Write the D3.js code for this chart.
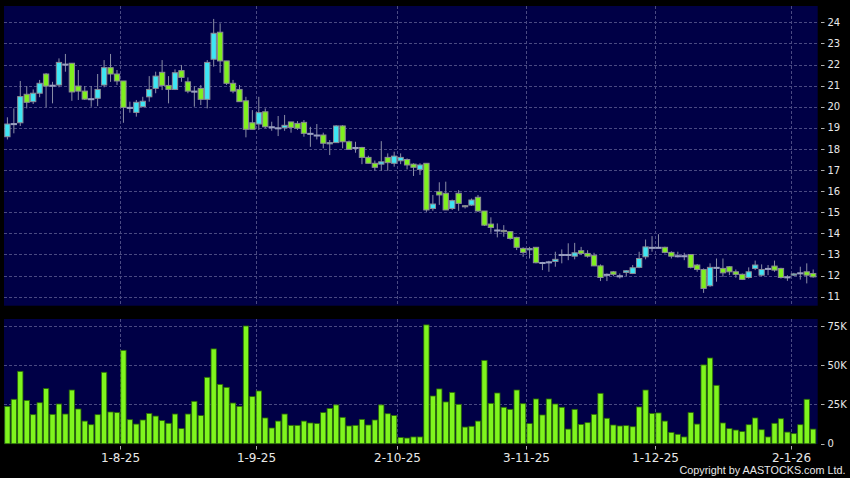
<!DOCTYPE html>
<html><head><meta charset="utf-8">
<script src="https://cdn.jsdelivr.net/npm/d3@7/dist/d3.min.js"></script>
<style>html,body{margin:0;padding:0;background:#000;overflow:hidden}svg{display:block}</style>
</head><body><svg id="c" width="850" height="478"></svg>
<script>
// ---- data ----
const openP = [18.58,19.2,19.24,20.59,20.24,20.64,21.55,21.02,21.03,22.02,
22.06,20.98,20.74,20.38,20.4,21.03,21.85,21.55,21.22,19.97,
19.73,20.0,20.47,20.87,21.63,21.01,20.82,21.71,21.18,20.74,
20.87,20.35,22.25,23.53,22.17,21.11,20.82,20.28,19.24,19.18,
19.76,19.05,19.0,19.0,19.28,19.21,19.26,18.74,18.66,18.66,
18.24,18.3,19.09,18.34,18.07,18.07,17.6,17.32,17.28,17.6,
17.32,17.44,17.5,17.28,17.03,17.32,15.18,15.97,15.9,15.18,
15.9,15.31,15.34,15.71,15.06,14.44,14.16,14.14,14.08,13.81,
13.29,13.22,13.34,12.62,12.65,12.67,13.0,13.0,12.92,13.18,
13.05,12.96,12.46,12.06,12.18,11.99,12.15,12.1,12.39,12.89,
13.34,13.34,13.34,13.1,12.94,12.94,13.0,12.5,12.29,11.52,
12.39,12.34,12.42,12.18,12.06,11.91,12.34,12.02,12.34,12.45,
12.34,11.94,12.02,12.13,12.18,12.1];
const highP = [19.5,19.92,21.22,20.98,20.82,21.27,21.6,21.18,22.29,22.5,
22.06,21.74,20.98,20.98,21.55,22.21,22.5,21.74,21.22,20.24,
20.32,20.47,21.45,21.66,22.21,21.45,21.77,21.98,21.39,20.98,
21.03,22.21,24.16,23.95,22.17,21.27,21.03,20.47,19.84,20.47,
19.92,19.29,19.56,19.61,19.28,19.32,19.37,19.05,19.18,18.77,
18.42,19.13,19.13,18.4,18.34,18.1,17.68,17.45,18.37,17.79,
17.87,17.79,17.55,17.32,17.32,17.32,15.82,16.42,16.45,15.6,
16.05,15.34,15.65,15.82,15.06,14.76,14.47,14.39,14.1,13.84,
13.34,13.36,13.34,12.65,12.7,13.13,13.24,13.53,13.55,13.36,
13.2,13.08,12.53,12.1,12.22,12.1,12.26,12.5,13.13,13.71,
13.87,13.96,13.37,13.15,13.13,13.08,13.0,12.55,12.34,12.58,
12.81,12.81,12.45,12.29,12.1,12.39,12.71,12.53,12.5,12.71,
12.37,12.02,12.13,12.42,12.58,12.29];
const lowP = [18.45,18.74,19.09,19.92,20.13,20.45,19.97,20.16,20.92,21.66,
20.28,20.32,20.32,20.0,20.03,20.92,21.18,21.03,19.24,19.72,
19.53,20.0,20.24,20.64,20.79,20.16,20.79,21.18,20.64,20.0,
20.08,19.92,21.9,21.61,21.03,20.64,20.24,18.55,18.93,18.9,
18.98,18.86,18.61,18.86,18.77,18.9,18.58,18.1,18.45,18.03,
17.71,18.3,18.03,17.98,17.82,17.28,17.32,16.97,16.97,16.97,
17.16,17.28,17.03,16.72,16.77,15.02,15.07,15.35,15.11,15.11,
15.07,15.18,15.3,15.02,14.35,14.03,13.81,13.84,13.7,13.21,
12.89,12.81,12.58,12.26,12.18,12.42,12.58,12.73,12.77,12.97,
12.85,12.45,11.74,11.74,11.97,11.86,11.97,12.07,12.35,12.77,
13.13,13.3,13.05,12.81,12.86,12.73,12.34,12.18,11.18,11.47,
11.71,11.94,12.02,11.9,11.79,11.86,12.26,11.97,12.02,12.18,
11.86,11.75,11.98,11.81,11.63,11.9];
const closeP = [19.18,19.2,20.48,20.21,20.64,21.11,20.98,21.02,22.1,22.02,
20.7,20.74,20.36,20.38,20.82,21.85,21.55,21.22,19.97,19.97,
20.21,20.26,20.82,21.45,21.01,20.82,21.61,21.39,20.74,20.74,
20.35,22.1,23.48,22.17,21.11,20.74,20.24,18.93,18.93,19.72,
19.05,19.05,19.0,19.12,19.02,18.98,18.74,18.74,18.66,18.27,
18.3,19.09,18.34,17.98,18.07,17.6,17.32,17.13,17.39,17.35,
17.66,17.6,17.24,17.13,17.24,15.11,15.39,15.82,15.11,15.55,
15.42,15.26,15.58,15.06,14.39,14.28,14.16,14.08,13.76,13.34,
13.1,13.28,12.61,12.62,12.65,12.77,13.0,13.0,13.08,13.05,
12.92,12.46,11.91,12.06,12.06,11.99,12.23,12.37,12.81,13.36,
13.34,13.34,13.1,12.92,12.94,12.94,12.39,12.29,11.39,12.39,
12.39,12.13,12.18,12.06,11.82,12.18,12.5,12.29,12.34,12.26,
11.91,11.94,12.08,12.13,12.02,11.94];
const volumeK = [23.8,28.3,46.1,27.6,18.5,26.1,35.1,18.7,25.3,18.9,
34.2,22.1,14.4,12.1,18.5,45.5,20.2,19.8,59.5,15.3,
12.5,15.1,19.3,17.6,14.7,13.0,18.9,9.6,18.9,27.0,
17.9,42.3,60.4,37.8,35.9,25.9,23.8,75.0,30.0,33.6,
16.4,10.0,14.4,18.9,11.7,11.7,14.4,13.2,12.8,19.8,
22.5,24.7,16.8,11.3,11.7,15.5,11.9,15.1,24.7,19.1,
17.9,4.0,3.6,4.3,4.3,75.7,30.4,34.9,26.6,32.7,
25.1,10.6,11.1,14.4,53.1,25.7,32.3,23.2,21.9,34.2,
25.5,12.8,28.5,18.3,28.5,25.3,23.2,9.3,21.9,12.3,
13.4,18.7,32.1,16.2,11.9,11.3,11.5,10.8,23.4,34.2,
19.3,19.6,14.4,7.2,6.0,4.3,19.8,12.5,50.2,54.6,
37.2,13.2,9.6,8.7,7.7,12.1,16.4,8.9,4.3,13.0,
15.9,7.4,6.4,12.1,28.3,9.3];
const dateTickIndex = [17, 38, 60, 80, 100, 121];
const dateTickLabels = ["1-8-25","1-9-25","2-10-25","3-11-25","1-12-25","2-1-26"];
const priceTicks = [11,12,13,14,15,16,17,18,19,20,21,22,23,24];
const volumeTicks = [0, 25, 50, 75];
const volumeTickLabels = ["0","25K","50K","75K"];
const copyright = "Copyright by AASTOCKS.com Ltd.";

// ---- layout ----
const svg = d3.select("#c");
const panelL = 4, panelR = 817.7;
const priceTop = 6, priceBot = 305.7;
const volTop = 319, volBot = 444;
const navy = "#000046", gridCol = "#4a4a82";

svg.append("rect").attr("width",850).attr("height",478).attr("fill","#000");
svg.append("rect").attr("x",panelL).attr("y",priceTop).attr("width",panelR-panelL).attr("height",priceBot-priceTop).attr("fill",navy);
svg.append("rect").attr("x",panelL).attr("y",volTop).attr("width",panelR-panelL).attr("height",volBot-volTop).attr("fill",navy);

const idx = d3.range(openP.length);
const x = d3.scaleBand().domain(idx).range([3.6, 817]).paddingInner(0.18).paddingOuter(0.18);
const bw = x.bandwidth(), step = x.step();
const cx = i => x(i) + bw/2;
const yP = d3.scaleLinear().domain([11,24]).range([296.7, 22.3]);
const yV = d3.scaleLinear().domain([0,75]).range([443.7, 326]);

// gridlines
const gP = svg.append("g");
gP.selectAll("line.h").data(priceTicks).join("line")
  .attr("x1",panelL).attr("x2",panelR)
  .attr("y1",d=>Math.round(yP(d))+0.5).attr("y2",d=>Math.round(yP(d))+0.5)
  .attr("stroke",gridCol).attr("stroke-dasharray","3,2");
gP.selectAll("line.hv").data(volumeTicks.filter(d=>d>0)).join("line")
  .attr("x1",panelL).attr("x2",panelR)
  .attr("y1",d=>Math.round(yV(d))+0.5).attr("y2",d=>Math.round(yV(d))+0.5)
  .attr("stroke",gridCol).attr("stroke-dasharray","3,2");
const gx = i => Math.round(cx(i) + step/2) + 0.5;
[[priceTop, priceBot],[volTop, volBot]].forEach(([a,b])=>{
  gP.append("g").selectAll("line").data(dateTickIndex).join("line")
    .attr("x1",gx).attr("x2",gx).attr("y1",a).attr("y2",b)
    .attr("stroke",gridCol).attr("stroke-dasharray","3,2");
});

// volume bars
svg.append("g").selectAll("rect").data(idx).join("rect")
  .attr("x",i=>x(i)).attr("width",bw)
  .attr("y",i=>yV(volumeK[i])).attr("height",i=>yV(0)-yV(volumeK[i]))
  .attr("fill","#7ff51e").attr("stroke","#2b6a06").attr("stroke-width",0.8);

// candles
const gc = svg.append("g");
gc.selectAll("line").data(idx).join("line")
  .attr("x1",cx).attr("x2",cx)
  .attr("y1",i=>yP(highP[i])).attr("y2",i=>yP(lowP[i]))
  .attr("stroke","#8a8ea6").attr("stroke-width",1);
gc.selectAll("rect").data(idx).join("rect")
  .attr("x",i=>x(i)).attr("width",bw)
  .attr("y",i=>yP(Math.max(openP[i],closeP[i])))
  .attr("height",i=>Math.max(1, Math.abs(yP(openP[i])-yP(closeP[i]))))
  .attr("fill",i=>closeP[i]>openP[i] ? "#3ee6f4" : (closeP[i]<openP[i] ? "#7ff01e" : "#9aa0c0"))
  .attr("stroke",i=>closeP[i]===openP[i] ? "#9aa0c0" : "#8c8c96")
  .attr("stroke-width",1);

// right axes
const txt = "#e8e8e8";
const ra = svg.append("g");
ra.selectAll("line.p").data(priceTicks).join("line")
  .attr("x1",821).attr("x2",824.5).attr("y1",d=>Math.round(yP(d))+0.5).attr("y2",d=>Math.round(yP(d))+0.5)
  .attr("stroke","#b0b0b0");
ra.selectAll("text.p").data(priceTicks).join("text")
  .attr("x",827.5).attr("y",d=>yP(d)).attr("dy","0.36em")
  .attr("fill",txt).attr("font-family","DejaVu Sans").attr("font-size",10).text(d=>d);
ra.selectAll("line.v").data(volumeTicks).join("line")
  .attr("x1",821).attr("x2",824.5).attr("y1",d=>Math.round(yV(d))+0.5).attr("y2",d=>Math.round(yV(d))+0.5)
  .attr("stroke","#b0b0b0");
ra.selectAll("text.v").data(volumeTicks).join("text")
  .attr("x",827.5).attr("y",d=>yV(d)).attr("dy","0.36em")
  .attr("fill",txt).attr("font-family","DejaVu Sans").attr("font-size",10).text((d,i)=>volumeTickLabels[i]);

// date axis
const da = svg.append("g");
da.selectAll("line").data(dateTickIndex).join("line")
  .attr("x1",gx).attr("x2",gx).attr("y1",446).attr("y2",449.5).attr("stroke","#b0b0b0");
da.selectAll("text").data(dateTickIndex).join("text")
  .attr("x",gx).attr("y",462).attr("text-anchor","middle")
  .attr("fill",txt).attr("font-family","DejaVu Sans").attr("font-size",12)
  .text((d,i)=>dateTickLabels[i]);

svg.append("text").attr("x",845.5).attr("y",474).attr("text-anchor","end")
  .attr("fill",txt).attr("font-family","Liberation Sans, Arial, sans-serif").attr("font-size",10.8)
  .text(copyright);
</script></body></html>
